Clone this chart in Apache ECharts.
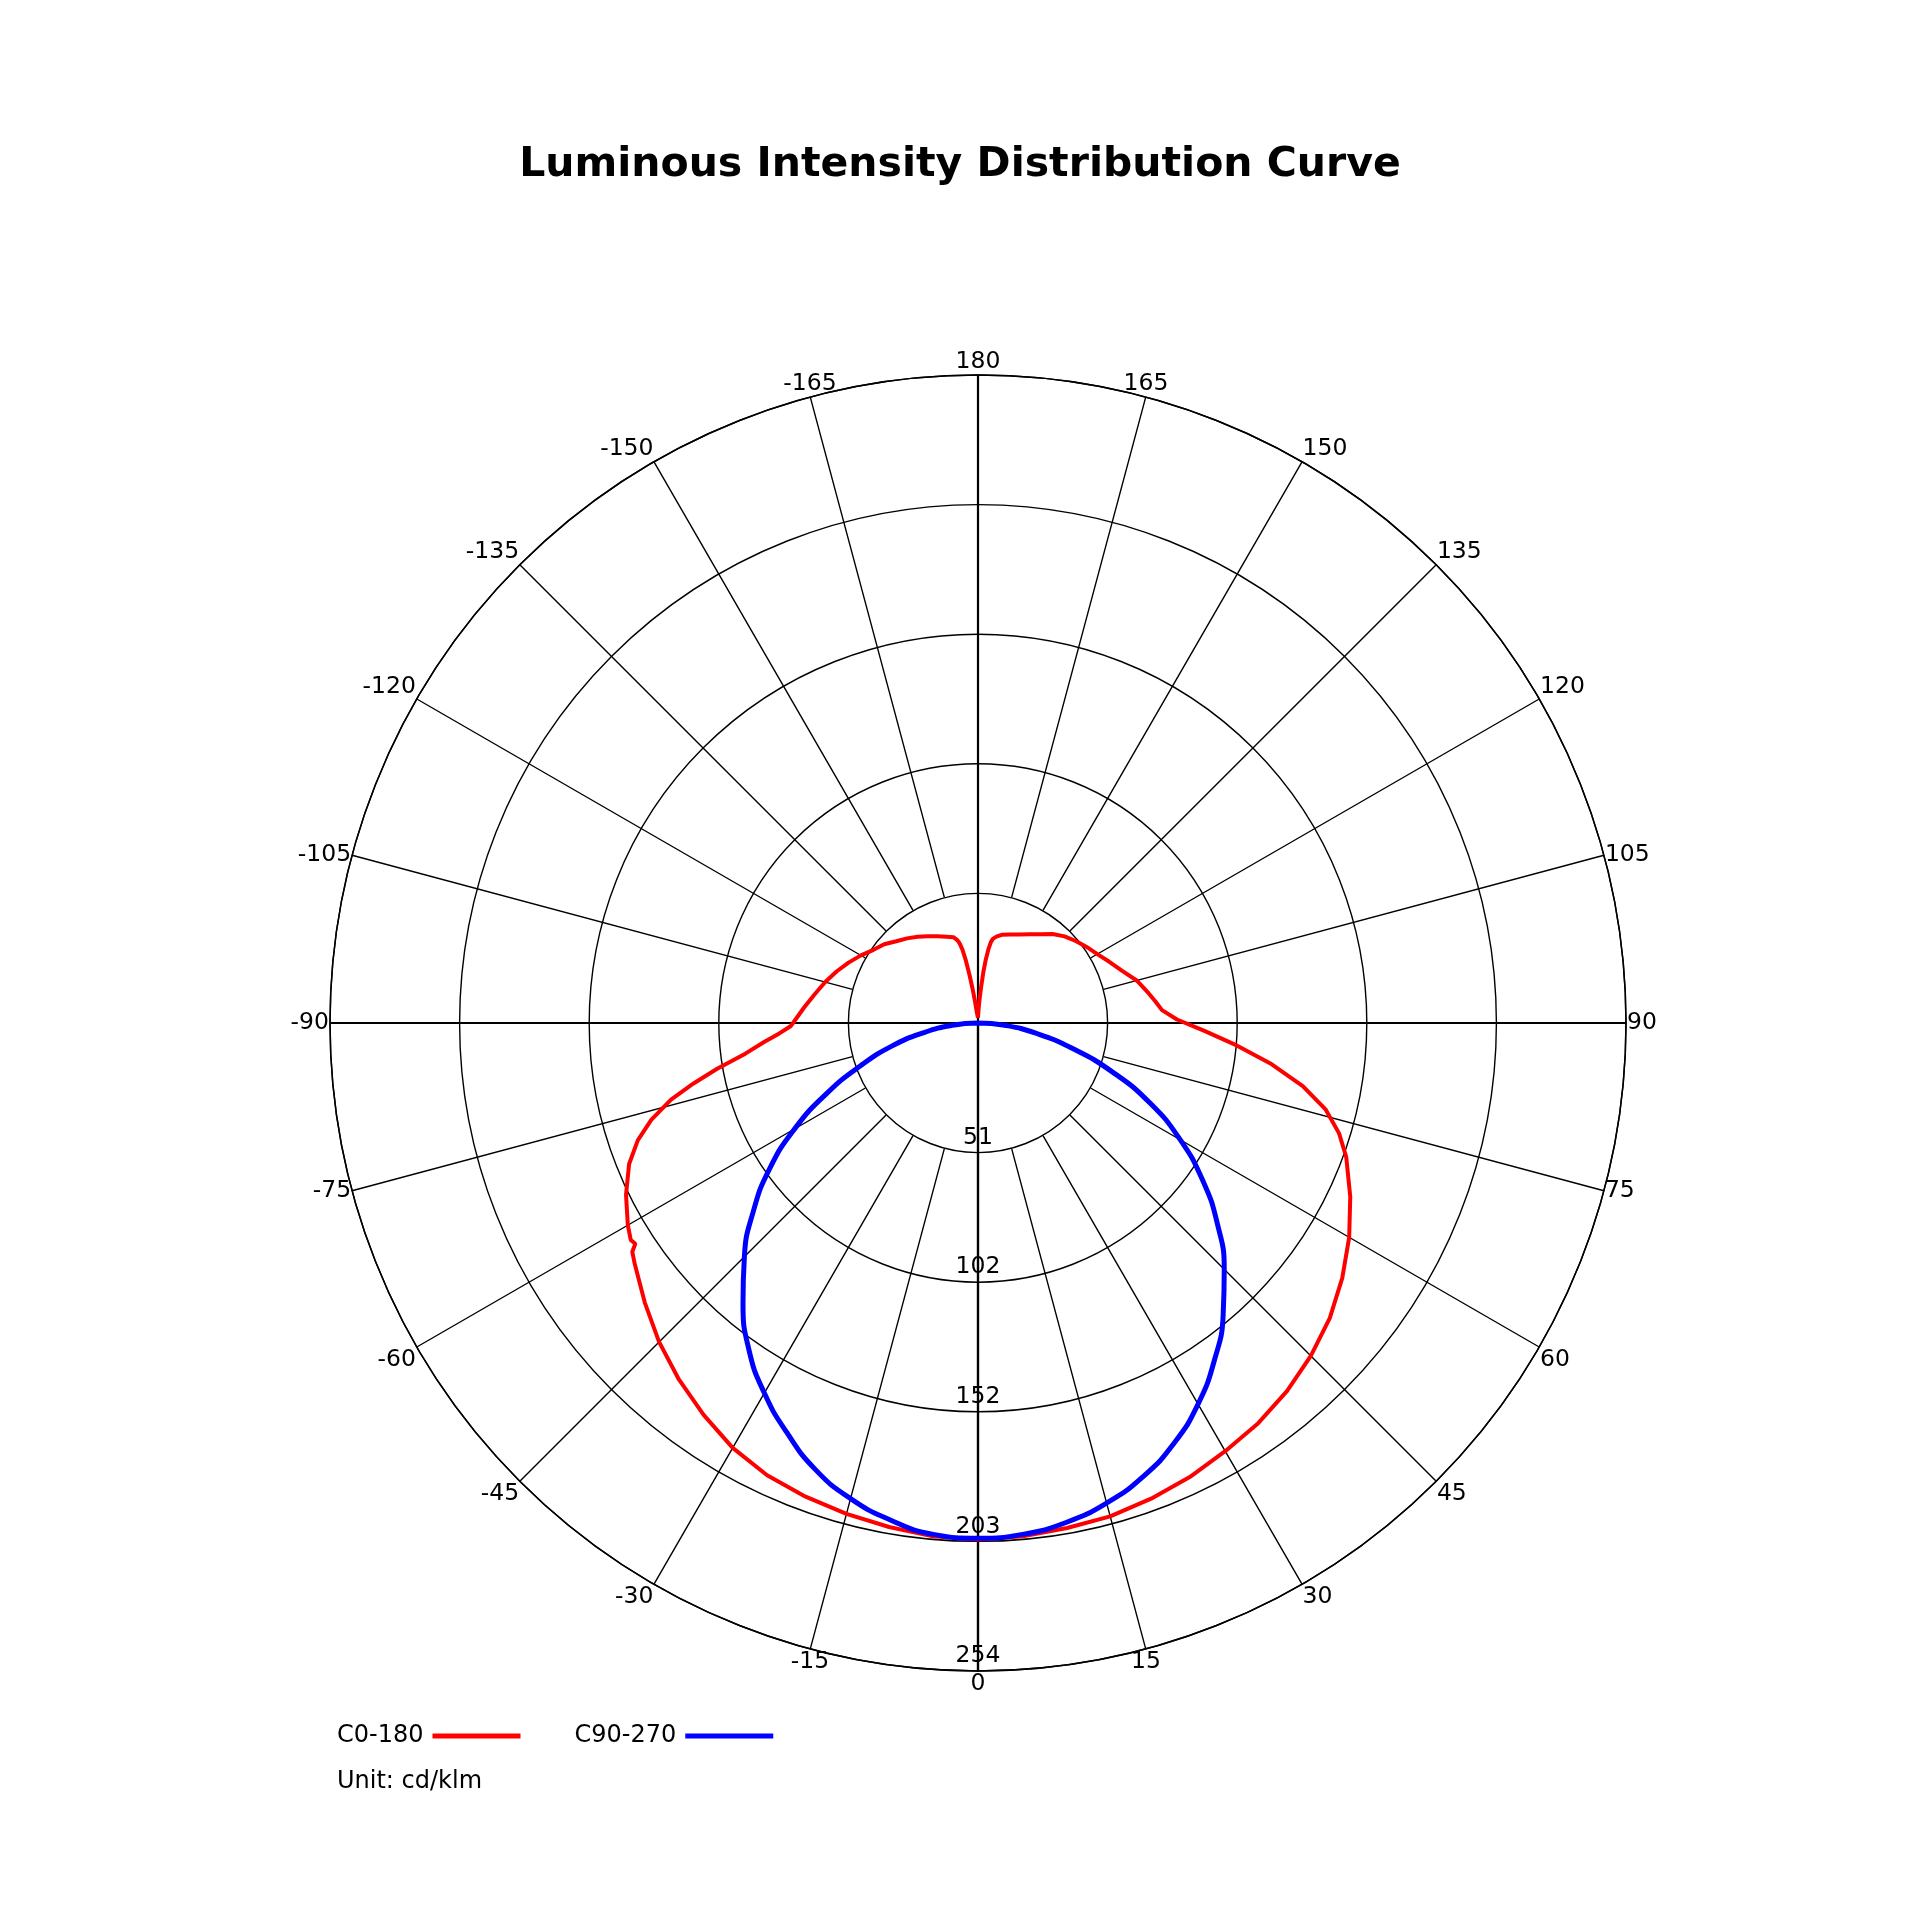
<!DOCTYPE html>
<html>
<head>
<meta charset="utf-8">
<title>Luminous Intensity Distribution Curve</title>
<script src="https://cdn.jsdelivr.net/npm/echarts@6/dist/echarts.min.js"></script>
<style>
  html, body { margin: 0; padding: 0; background: #fff; }
  #main { width: 1920px; height: 1920px; }
</style>
</head>
<body>
<div id="main"></div>
<script>
// C0-180 plane, gamma angle (deg, negative = C180 side) and intensity (cd/klm)
var c0Angles = [-180, -178, -176, -174, -173, -172, -171, -170, -169, -168, -167, -166, -164,
  -160, -155, -150, -145, -140, -135, -130, -125, -120, -115, -110, -105, -100, -95,
  -90, -89, -87, -85, -82.5, -80, -78, -76, -73.5, -71, -68, -64, -60, -58, -57.2, -56.5,
  -55, -50, -45, -40, -35, -30, -25, -20, -15, -10, -5,
  0, 5, 10, 15, 20, 25, 30, 35, 40, 45, 50, 55, 60, 65, 70, 73, 76, 79, 82, 85, 88,
  91, 94, 97, 100, 105, 110, 115, 120, 125, 130, 135, 140, 145, 150, 155, 160, 165,
  168, 170, 171, 172, 173, 174, 175, 176, 177, 178, 180];
var c0Values = [2, 2.5, 3, 4, 5.5, 9, 13.5, 19, 25, 29.5, 32, 33.5, 35,
  36, 37.5, 39.3, 41.3, 43.3, 45.3, 48, 50, 53, 56, 59, 62, 65, 68.5,
  72.5, 73.5, 78, 84, 92, 104, 114, 124, 133.5, 141, 147.5, 153.5, 158.5, 160.5, 159.8, 162.5,
  164.3, 170.5, 176.8, 182.4, 187.5, 192.3, 195.6, 197.6, 199.2, 200.6, 202,
  202.5, 202, 201, 200.2, 198.4, 196.4, 193.8, 191.5, 188.4, 184.5, 180, 174.3, 168, 161, 153.6, 148, 140.5, 129.7, 116.3, 102, 88.8,
  78, 72.3, 70, 67.8, 64.4, 60, 56.8, 54, 52, 50, 48, 45.5, 42.5, 40.2, 38.3, 36.9, 35.8,
  34.6, 33.5, 32, 29, 25, 20, 14.5, 10, 7, 4.5, 2];

// C90-270 plane
var c90Angles = [-90, -85, -80, -75, -70, -65, -60, -55, -50, -45, -40, -35, -30, -25, -20, -15, -10, -5,
  0, 5, 10, 15, 20, 25, 30, 35, 40, 45, 50, 55, 60, 65, 70, 75, 80, 85, 90];
var c90Values = [0, 10, 21.5, 35, 49, 65.5, 83, 99.8, 115, 129.5, 143.3, 156.5, 167.5, 177.2, 186.3, 193, 197.8, 201.2,
  202, 201.2, 198.8, 194.8, 189.2, 181.8, 172.5, 161.5, 149.5, 136.5, 122.5, 107.5, 91.5, 74.5, 56, 38, 23, 10.5, 0];

var seriesNames = ['C0-180', 'C90-270'];
var radiusMax = 254;
var radiusStep = 50.8;   // labels 51 / 102 / 152 / 203 / 254

var FONT = 'DejaVu Sans';

// angle 0 = straight down, negative side mapped past 180
function toPolar(angles, values) {
  var res = [];
  for (var i = 0; i < angles.length; i++) {
    var a = angles[i] < 0 ? angles[i] + 360 : angles[i];
    res.push([values[i], a]);
  }
  return res;
}

var chart = echarts.init(document.getElementById('main'));

var option = {
  backgroundColor: '#fff',
  animation: false,
  title: [{
    text: 'Luminous Intensity Distribution Curve',
    left: 'center',
    top: 140,
    textStyle: { fontFamily: FONT, fontSize: 41, fontWeight: 'bold', color: '#000' }
  }, {
    text: 'Unit: cd/klm',
    left: 332,
    top: 1765,
    textStyle: { fontFamily: FONT, fontSize: 24, fontWeight: 'normal', color: '#000' }
  }],
  legend: {
    left: 332,
    top: 1719,
    align: 'right',
    icon: 'rect',
    itemWidth: 88,
    itemHeight: 5,
    itemGap: 54,
    textStyle: { fontFamily: FONT, fontSize: 24, color: '#000', padding: [0, 4, 0, 0] },
    data: seriesNames
  },
  polar: [
    { center: [978, 1023], radius: 648 },
    { center: [978, 1023], radius: [130, 648] }
  ],
  angleAxis: [{
    // main cross lines through the centre + outer circle
    polarIndex: 0,
    type: 'value',
    min: 0,
    max: 360,
    interval: 90,
    startAngle: 270,
    clockwise: false,
    axisLine: { show: true, lineStyle: { color: '#000', width: 1.5 } },
    axisTick: { show: false },
    axisLabel: { show: false },
    splitLine: { show: true, lineStyle: { color: '#000', width: 2.2 } }
  }, {
    // 15 degree spokes starting from the first ring
    polarIndex: 1,
    type: 'value',
    min: 0,
    max: 360,
    interval: 15,
    startAngle: 270,
    clockwise: false,
    axisLine: { show: false },
    axisTick: { show: false },
    axisLabel: {
      show: true,
      margin: 1,
      fontFamily: FONT,
      fontSize: 23.5,
      color: '#000',
      formatter: function (v) {
        if (v >= 360) return '';
        return String(v > 180 ? v - 360 : v);
      }
    },
    splitLine: { show: true, lineStyle: { color: '#000', width: 1.4 } }
  }],
  radiusAxis: [{
    polarIndex: 0,
    type: 'value',
    min: 0,
    max: radiusMax,
    interval: radiusStep,
    axisLine: { show: true, lineStyle: { color: '#000', width: 2.2 } },
    axisTick: { show: false },
    axisLabel: {
      margin: 0,
      align: 'center',
      verticalAlign: 'bottom',
      padding: [0, 0, 3, 0],
      fontFamily: FONT,
      fontSize: 23.5,
      color: '#000',
      formatter: function (v) { return v === 0 ? '' : String(Math.round(v)); }
    },
    splitLine: { show: true, lineStyle: { color: '#000', width: 1.4 } }
  }, {
    polarIndex: 1,
    type: 'value',
    min: 0,
    max: radiusMax,
    show: false
  }],
  series: [{
    name: seriesNames[0],
    type: 'line',
    coordinateSystem: 'polar',
    polarIndex: 0,
    showSymbol: false,
    smooth: false,
    color: '#ff0000',
    lineStyle: { color: '#ff0000', width: 4 },
    data: toPolar(c0Angles, c0Values),
    z: 5
  }, {
    name: seriesNames[1],
    type: 'line',
    coordinateSystem: 'polar',
    polarIndex: 0,
    showSymbol: false,
    smooth: true,
    color: '#0000ff',
    lineStyle: { color: '#0000ff', width: 5 },
    data: toPolar(c90Angles, c90Values),
    z: 6
  }]
};

chart.setOption(option);
</script>
</body>
</html>
